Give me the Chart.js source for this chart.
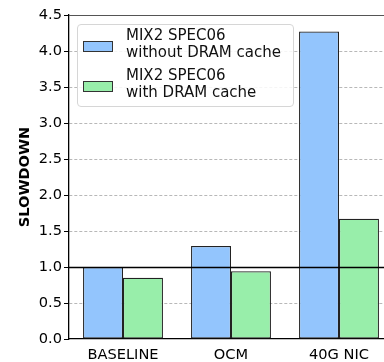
<!DOCTYPE html>
<html>
<head>
<meta charset="utf-8">
<script src="https://cdn.jsdelivr.net/npm/chart.js@4.4.0/dist/chart.umd.min.js"></script>
<style>
  html, body { margin: 0; padding: 0; background: #fff; overflow: hidden; }
  #wrap { position: relative; width: 384px; height: 362px; overflow: hidden; }
  #chart { position: absolute; left: 0; top: 0; }
  #legend {
    position: absolute; left: 77px; top: 24px; width: 217px; height: 83px;
    border: 1px solid #d6d6d6; border-radius: 4px; background: rgba(255,255,255,0.85);
    box-sizing: border-box; font-family: "DejaVu Sans", sans-serif; font-size: 15px; color: #111;
  }
  .item { position: absolute; left: 5px; }
  .sw { position: absolute; left: 0; width: 30px; height: 11px; border: 1px solid #333; box-sizing: border-box; }
  .txt { position: absolute; left: 43px; line-height: 17px; white-space: nowrap; }
</style>
</head>
<body>
<div id="wrap">
  <canvas id="chart" width="400" height="362"></canvas>
  <div id="legend"></div>
</div>
<script>
// --- DATOS ---
const categorias = ['BASELINE', 'OCM', '40G NIC'];
const sinCache = [1.0, 1.29, 4.27];
const conCache = [0.85, 0.94, 1.67];
const etiquetasSerie = [['MIX2 SPEC06', 'without DRAM cache'], ['MIX2 SPEC06', 'with DRAM cache']];
const coloresSerie = ['#93c5fd', '#98eeaa'];

// leyenda en HTML (dos lineas por entrada)
const leyenda = document.getElementById('legend');
etiquetasSerie.forEach((lineas, i) => {
    const item = document.createElement('div');
    item.className = 'item';
    item.style.top = (2 + i * 40) + 'px';
    item.innerHTML = `<div class="sw" style="top:14px;background:${coloresSerie[i]}"></div>` +
        `<div class="txt" style="top:0">${lineas[0]}<br>${lineas[1]}</div>`;
    leyenda.appendChild(item);
});

// linea de referencia en 1.0 y borde superior
const lineaReferencia = {
    id: 'lineaReferencia',
    afterDatasetsDraw(chart) {
        const { ctx, chartArea, scales } = chart;
        const y = Math.round(scales.y.getPixelForValue(1.0)) + 0.5;
        ctx.save();
        ctx.strokeStyle = '#000';
        ctx.lineWidth = 1.3;
        ctx.beginPath();
        ctx.moveTo(chartArea.left, y);
        ctx.lineTo(chartArea.right, y);
        ctx.stroke();
        ctx.strokeStyle = '#555';
        ctx.lineWidth = 1;
        ctx.beginPath();
        ctx.moveTo(chartArea.left, chartArea.top + 0.5);
        ctx.lineTo(chartArea.right, chartArea.top + 0.5);
        ctx.stroke();
        ctx.restore();
    }
};

const fuente = { family: 'DejaVu Sans', size: 14.6 };

new Chart(document.getElementById('chart'), {
    type: 'bar',
    data: {
        labels: categorias,
        datasets: [
            { label: etiquetasSerie[0].join(' '), data: sinCache, backgroundColor: coloresSerie[0] },
            { label: etiquetasSerie[1].join(' '), data: conCache, backgroundColor: coloresSerie[1] }
        ].map(d => Object.assign(d, {
            borderColor: '#222', borderWidth: 1.2, borderSkipped: false,
            categoryPercentage: 0.74, barPercentage: 1.0
        }))
    },
    options: {
        responsive: false,
        animation: false,
        layout: { padding: { top: 15, right: 7, left: 16, bottom: 0 } },
        plugins: { legend: { display: false }, tooltip: { enabled: false } },
        scales: {
            x: {
                grid: { display: false, drawTicks: false },
                border: { color: '#000', width: 1.3 },
                ticks: { color: '#000', font: fuente, padding: 7 },
                afterFit(s) { s.height = 23; }
            },
            y: {
                min: 0, max: 4.5,
                grid: {
                    color: ctx => (ctx.tick && (ctx.tick.value === 0 || ctx.tick.value === 4.5)) ? 'rgba(0,0,0,0)' : '#b8b8b8',
                    lineWidth: 1, tickColor: '#000', tickLength: 5
                },
                border: { color: '#000', width: 1.3, dash: [3, 2] },
                ticks: {
                    stepSize: 0.5, color: '#000', font: fuente, padding: 2,
                    callback: v => v.toFixed(1)
                },
                title: {
                    display: true, text: 'SLOWDOWN', color: '#000',
                    font: { family: 'DejaVu Sans', size: 14.6, weight: 'bold' }, padding: { top: 0, bottom: 0 }
                },
                afterFit(s) { s.width = 53; }
            }
        }
    },
    plugins: [lineaReferencia]
});
</script>
</body>
</html>
